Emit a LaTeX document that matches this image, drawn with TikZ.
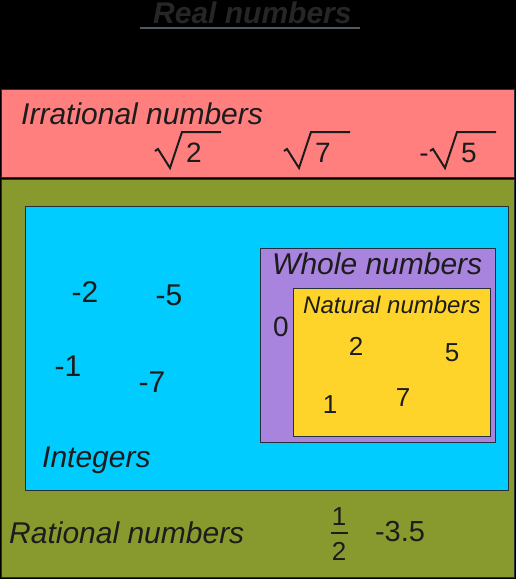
\documentclass[tikz,border=0pt]{standalone}
\usepackage{fontspec}
\setmainfont{Liberation Sans}
\definecolor{rosa}{HTML}{FF7F7F}
\definecolor{oliva}{HTML}{889A2E}
\definecolor{ciano}{HTML}{00CCFF}
\definecolor{roxo}{HTML}{A884DE}
\definecolor{amarelo}{HTML}{FFD42A}
\definecolor{tinta}{HTML}{1C1C1C}
\definecolor{borda}{HTML}{25303C}

\begin{document}
\begin{tikzpicture}[x=1pt, y=-1pt,
    rotulo/.style={font=\fontsize{30}{33}\selectfont\itshape, text=tinta, inner sep=0pt, anchor=base west},
    num/.style={font=\fontsize{30}{33}\selectfont, text=tinta, inner sep=0pt},
    radical/.style={draw=tinta, line width=2pt, line join=miter},
    caixa/.style={draw=borda, line width=1pt}]

    % Fundo
    \fill[black] (0,0) rectangle (516,579);
    \useasboundingbox (0,0) rectangle (516,579);

    % Titulo
    \node[rotulo, font=\fontsize{30}{33}\selectfont\bfseries\itshape, text=black!85] (titulo) at (153,23) {Real numbers};
    \draw[borda!80!white, line width=1.5pt] (140,28) -- (360,28);

    % Conjuntos
    \fill[rosa, caixa] (1.5,89) rectangle (514.5,177);
    \fill[oliva, caixa] (1.5,179) rectangle (514.5,577);
    \fill[ciano, caixa] (25,206) rectangle (508,490);
    \fill[roxo, caixa] (260,248) rectangle (495,442);
    \fill[amarelo, caixa] (293,288) rectangle (490,436);

    % Nomes dos conjuntos
    \node[rotulo] (irracionais) at (21,124) {Irrational numbers};
    \node[rotulo] (inteiros) at (42,467) {Integers};
    \node[rotulo] (racionais) at (9,543) {Rational numbers};
    \node[rotulo] (inteirosnn) at (272,274) {Whole numbers};
    \node[rotulo, font=\fontsize{24}{26}\selectfont\itshape] (naturais) at (303,313) {Natural numbers};

    % Irracionais (raizes desenhadas a mao)
    \foreach \n/\x in {2/155, 7/284, 5/430}{
        \node[num, font=\fontsize{28}{30}\selectfont, anchor=base] (raiz\n) at (\x+39,162) {\n};
        \draw[radical] (\x,151) -- (\x+3,149) -- (\x+15,168) -- (\x+27,132) -- (\x+66,132);
    }
    \node[num, font=\fontsize{28}{30}\selectfont, anchor=base east] (menos) at (429,162) {-};

    % Inteiros
    \node[num] (m2) at (85,292) {-2};
    \node[num] (m5) at (169,295) {-5};
    \node[num] (m1) at (68,366) {-1};
    \node[num] (m7) at (152,382) {-7};

    % Zero e naturais
    \node[num, font=\fontsize{28}{30}\selectfont] (zero) at (281,327) {0};
    \foreach \n/\x/\y in {2/356/346, 5/452/353, 1/330/405, 7/403/398}
        \node[num, font=\fontsize{26}{28}\selectfont] (nat\n) at (\x,\y) {\n};

    % Racionais
    \node[num, font=\fontsize{26}{28}\selectfont] (um) at (339,517) {1};
    \node[num, font=\fontsize{26}{28}\selectfont] (dois) at (339,551) {2};
    \draw[tinta, line width=1.2pt] (331,533) -- (348,533);
    \node[num, font=\fontsize{29}{31}\selectfont] (m35) at (400,532) {-3.5};

\end{tikzpicture}
\end{document}
